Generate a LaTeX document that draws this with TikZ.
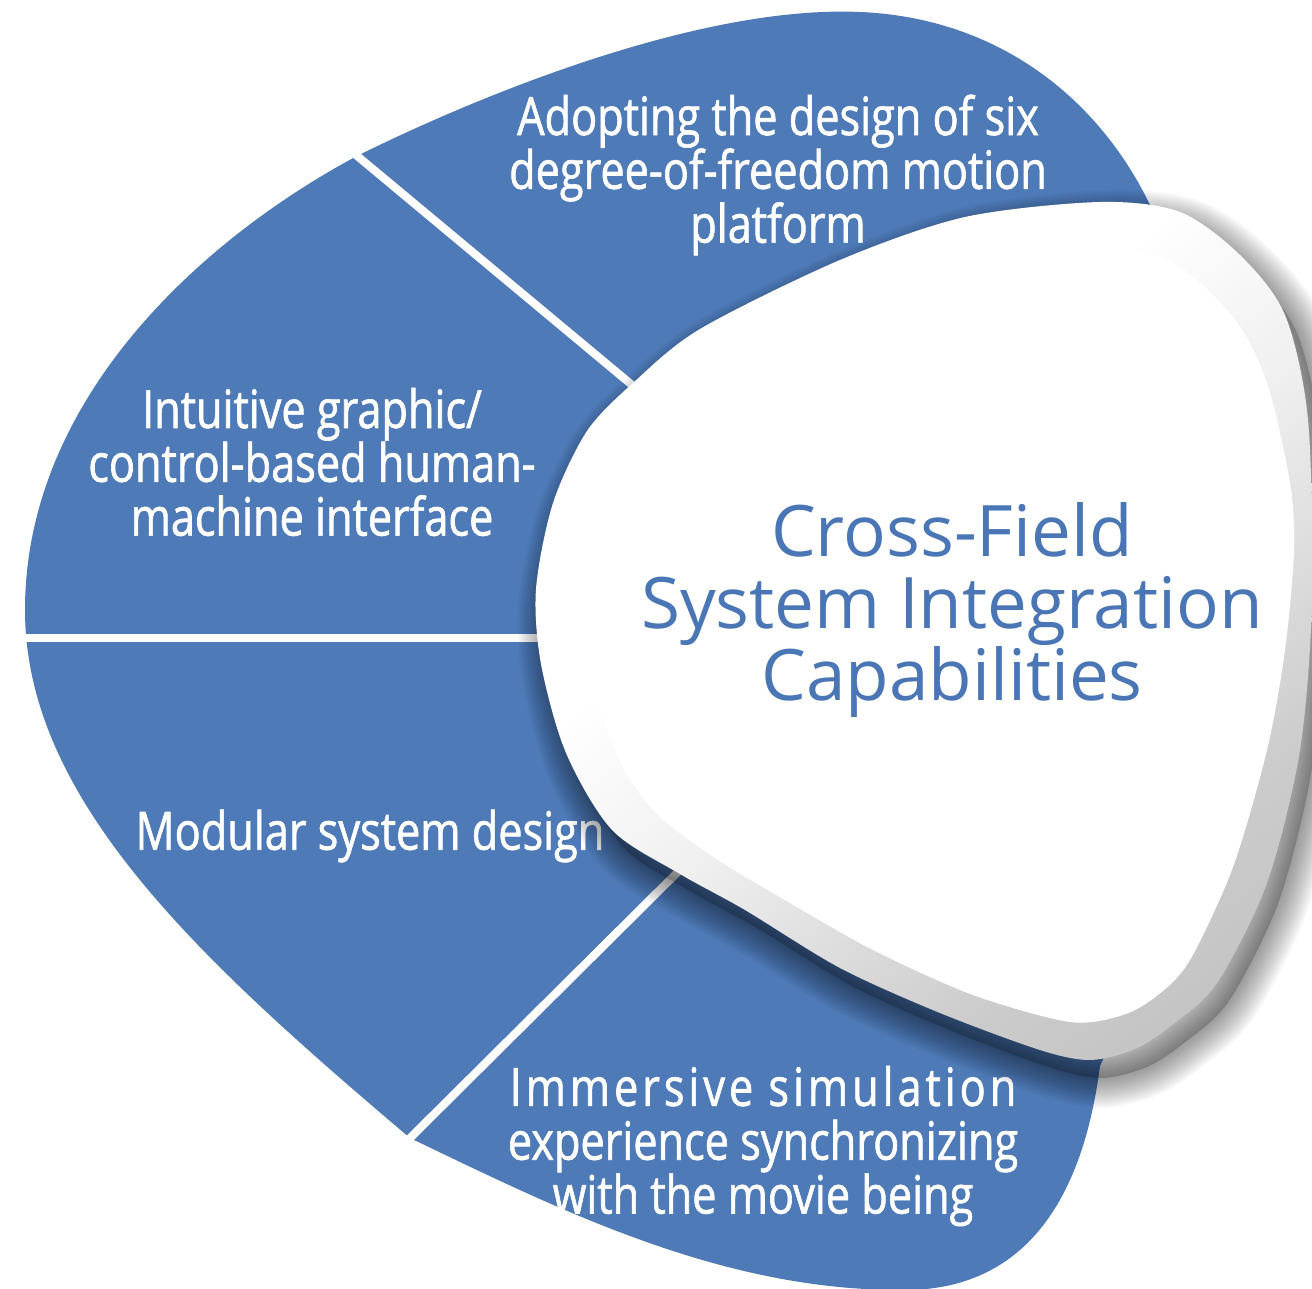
\documentclass[tikz,border=0pt]{standalone}
\usepackage{fontspec}
\setmainfont{Open Sans}
\newfontfamily\segfont[FakeStretch=0.82, FakeBold=1.2]{Open Sans}
\newfontfamily\titlefont{Open Sans}

\definecolor{blobblue}{RGB}{78,122,184}
\definecolor{titleblue}{RGB}{74,118,182}
\pgfdeclareverticalshading{rimshade}{100bp}{color(0bp)=(gray!62); color(30bp)=(gray!40);
  color(48bp)=(gray!12); color(60bp)=(white); color(100bp)=(white)}

\tikzset{
  seg text/.style={text=white, align=center, font=\segfont\fontsize{15}{15.3}\selectfont},
  title text/.style={text=titleblue, align=center, font=\titlefont\fontsize{20.2}{20.4}\selectfont},
  separator/.style={white, line width=2.3pt},
  blob outline/.style={insert path={
    (357,156) .. controls (480,95) and (700,5) .. (860,12)
    .. controls (1000,18) and (1100,100) .. (1151,207)
    -- (1230,450) -- (1220,800) -- (1100,1066)
    .. controls (1080,1220) and (1010,1292) .. (900,1290)
    .. controls (720,1290) and (560,1210) .. (410,1138)
    .. controls (200,960) and (25,800) .. (25,610)
    .. controls (25,400) and (200,240) .. (357,156) -- cycle}},
  panel outline/.style={insert path={plot[smooth cycle] coordinates {
    (633,383) (700,329) (840,260) (965,217) (1100,202) (1180,212) (1240,255)
    (1285,315) (1308,420) (1312,600) (1300,750) (1267,883) (1217,983) (1172,1025)
    (1135,1049) (1090,1060) (1040,1050) (940,1013) (840,968) (745,910) (680,874)
    (612,830) (566,753) (541,664) (536,589) (553,503) (587,431)}}},
  panel inner/.style={insert path={plot[smooth cycle] coordinates {
    (700,392) (840,300) (965,258) (1067,245) (1167,260) (1233,317) (1267,383)
    (1290,483) (1294,550) (1285,650) (1267,750) (1233,867) (1190,960) (1158,995)
    (1123,1015) (1070,1022) (973,995) (873,950) (790,903) (715,858) (658,815)
    (622,765) (592,681) (584,589) (605,480) (640,432)}}}
}

\begin{document}
\begin{tikzpicture}[x=0.01cm, y=-0.01cm]
  \useasboundingbox (0,0) rectangle (1312,1289);

  % blue blob and its four parts
  \fill[blobblue, blob outline];
  \coordinate (sepA out) at (350,150);
  \coordinate (sepA in)  at (650,400);
  \coordinate (sepB out) at (15,638);
  \coordinate (sepB in)  at (570,638);
  \coordinate (sepC out) at (400,1148);
  \coordinate (sepC in)  at (700,850);
  \draw[separator] (sepA out) -- (sepA in);
  \draw[separator] (sepB out) -- (sepB in);
  \draw[separator] (sepC out) -- (sepC in);

  \node[seg text] (six dof) at (778,175) {Adopting the design of six\\degree-of-freedom motion\\platform};
  \node[seg text] (hmi) at (312,462) {Intuitive graphic/\\control-based human-\\machine interface};
  \node[seg text] (modular) at (370,836) {Modular system design};
  \node[seg text] (immersive) at (763,1146) {{\addfontfeatures{LetterSpace=7.5}Immersive simulation}\\experience synchronizing\\with the movie being};

  % soft shadow of the white panel
  \begin{scope}[shift={(12,18)}]
    \foreach \w in {4,8,...,60}
      \draw[black, opacity=0.03, line width=\w*0.2845pt, line join=round, panel outline];
    \fill[black, opacity=0.2, panel outline];
  \end{scope}

  % white panel with its rim
  \shade[shading=rimshade, shading angle=40, panel outline];
  \fill[white, panel inner];

  \node[title text] (core) at (952,610) {Cross-Field\\System Integration\\Capabilities};
\end{tikzpicture}
\end{document}
